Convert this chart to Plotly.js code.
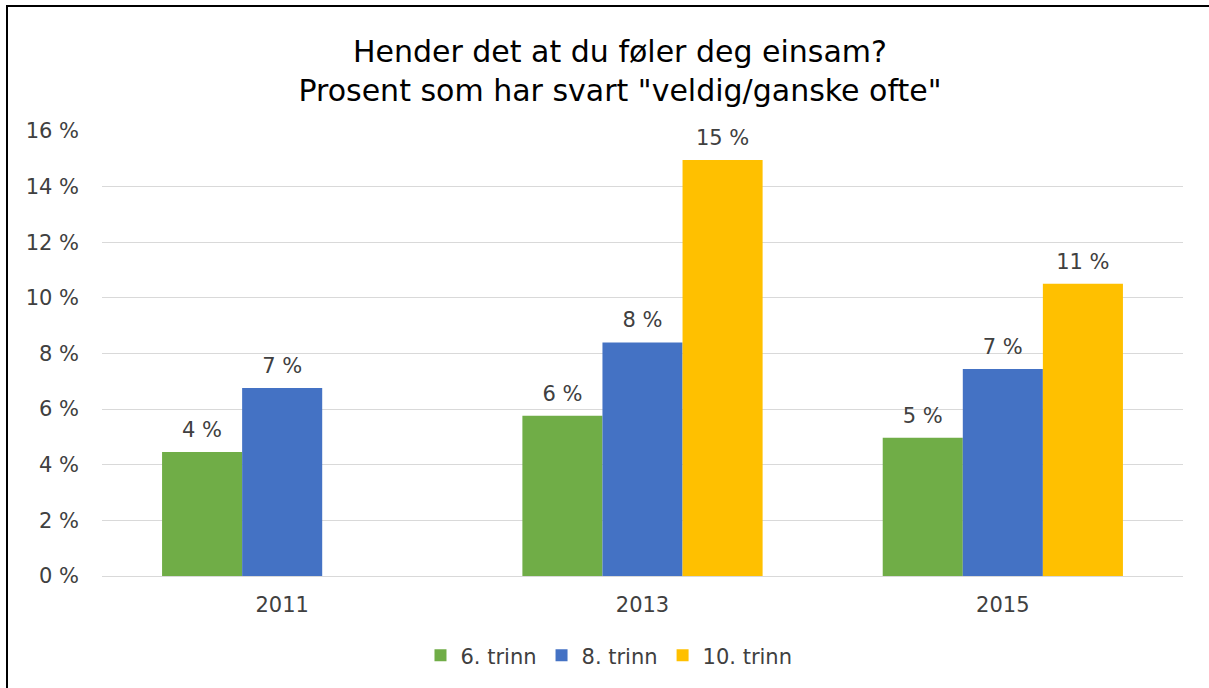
<!DOCTYPE html>
<html>
<head>
<meta charset="utf-8">
<script src="https://cdn.plot.ly/plotly-3.0.1.min.js"></script>
<style>
  html, body { margin: 0; padding: 0; background: #fff; overflow: hidden; }
  #frame { position: absolute; left: 6px; top: 5px; width: 1300px; height: 800px;
           border-top: 2px solid #000; border-left: 2px solid #000; pointer-events: none; z-index: 10; }
  #chart { width: 1209px; height: 688px; }
</style>
</head>
<body>
<div id="frame"></div>
<div id="chart"></div>
<script>
const years = ['2011', '2013', '2015'];
const trinn6 = [4.46, 5.76, 4.97];
const trinn8 = [6.76, 8.40, 7.44];
const trinn10 = [null, 14.96, 10.51];
const seriesNames = ['6. trinn', '8. trinn', '10. trinn'];
const seriesColors = ['#70ad47', '#4472c4', '#ffc000'];
const yTicks = [0, 2, 4, 6, 8, 10, 12, 14, 16];

const FONT = 'DejaVu Sans, Verdana, sans-serif';
const FS = 21;
const seriesValues = [trinn6, trinn8, trinn10];

const bars = seriesValues.map((vals, i) => ({
  type: 'bar',
  name: seriesNames[i],
  x: years,
  y: vals,
  offsetgroup: 'g' + i,
  marker: { color: seriesColors[i], line: { width: 0 } },
  hoverinfo: 'skip'
}));

// Data labels placed with the library's grouping, slightly above each bar
const labels = seriesValues.map((vals, i) => ({
  type: 'scatter',
  mode: 'markers+text',
  name: seriesNames[i] + ' label',
  x: years,
  y: vals,
  offsetgroup: 'g' + i,
  marker: { size: 14, opacity: 0, color: seriesColors[i] },
  text: vals.map(v => (v === null ? '' : Math.round(v) + ' %')),
  textposition: 'top center',
  textfont: { family: FONT, size: FS, color: '#404040' },
  cliponaxis: false,
  showlegend: false,
  hoverinfo: 'skip'
}));

const layout = {
  width: 1209,
  height: 688,
  paper_bgcolor: '#ffffff',
  plot_bgcolor: '#ffffff',
  margin: { l: 102, r: 26, t: 131, b: 109 },
  font: { family: FONT, color: '#404040', size: FS },
  title: {
    text: 'Hender det at du føler deg einsam?<br>Prosent som har svart "veldig/ganske ofte"',
    font: { family: FONT, size: 30, color: '#000000' },
    x: 0.5128, xref: 'container', xanchor: 'center',
    y: 0.910, yref: 'container', yanchor: 'middle'
  },
  barmode: 'group',
  bargap: 1/3,
  bargroupgap: 0,
  scattermode: 'group',
  scattergap: 1/3,
  xaxis: {
    type: 'category',
    showgrid: false,
    showline: true,
    linecolor: '#d9d9d9',
    linewidth: 1,
    ticks: '',
    ticklabelstandoff: 10,
    tickfont: { family: FONT, size: FS, color: '#404040' },
    fixedrange: true
  },
  yaxis: {
    range: [0, 16],
    tickvals: yTicks,
    ticktext: yTicks.map(v => v + ' %'),
    showgrid: true,
    gridcolor: '#d9d9d9',
    gridwidth: 1,
    zeroline: false,
    showline: false,
    ticks: '',
    ticklabelstandoff: 22,
    tickfont: { family: FONT, size: FS, color: '#404040' },
    fixedrange: true
  },
  showlegend: true,
  legend: {
    orientation: 'h',
    x: 0.469, xanchor: 'center', xref: 'paper',
    y: -0.179, yanchor: 'middle', yref: 'paper',
    font: { family: FONT, size: FS, color: '#404040' },
    itemwidth: 30,
    traceorder: 'normal'
  }
};

Plotly.newPlot('chart', bars.concat(labels), layout, { displayModeBar: false, staticPlot: true });
</script>
</body>
</html>
